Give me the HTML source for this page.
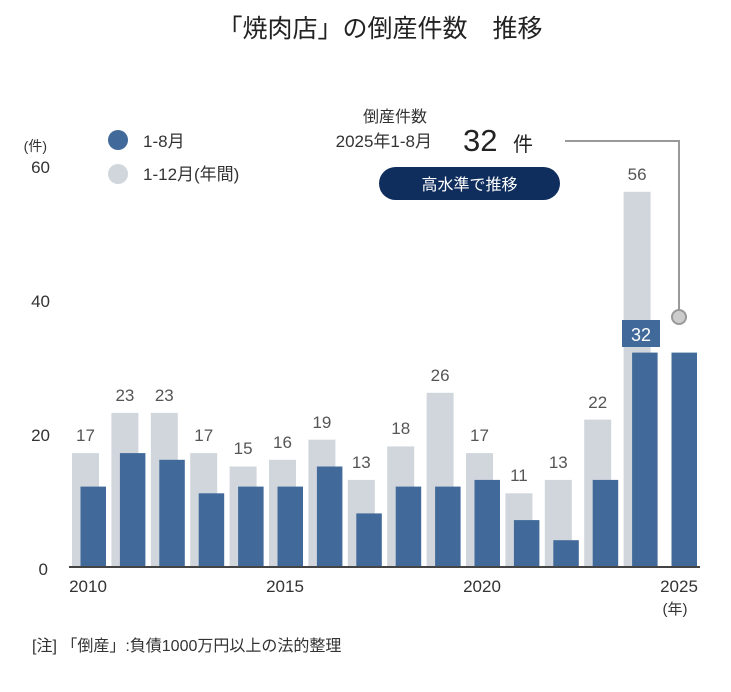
<!DOCTYPE html>
<html><head><meta charset="utf-8"><style>
body{margin:0;background:#fff;}
text{font-family:"Liberation Sans","Noto Sans CJK JP",sans-serif;}
</style></head><body>
<svg width="731" height="687" viewBox="0 0 731 687" xmlns="http://www.w3.org/2000/svg">
<rect width="731" height="687" fill="#fff"/>
<text x="380" y="37" font-size="25" text-anchor="middle" fill="#222">「焼肉店」の倒産件数　推移</text>
<g fill="#d0d6dc">
<rect x="72" y="453.1" width="27" height="113.9"/>
<rect x="111.4" y="412.9" width="27" height="154.1"/>
<rect x="150.8" y="412.9" width="27" height="154.1"/>
<rect x="190.2" y="453.1" width="27" height="113.9"/>
<rect x="229.6" y="466.5" width="27" height="100.5"/>
<rect x="269" y="459.8" width="27" height="107.2"/>
<rect x="308.4" y="439.7" width="27" height="127.3"/>
<rect x="347.8" y="479.9" width="27" height="87.1"/>
<rect x="387.2" y="446.4" width="27" height="120.6"/>
<rect x="426.6" y="392.8" width="27" height="174.2"/>
<rect x="466" y="453.1" width="27" height="113.9"/>
<rect x="505.4" y="493.3" width="27" height="73.7"/>
<rect x="544.8" y="479.9" width="27" height="87.1"/>
<rect x="584.2" y="419.6" width="27" height="147.4"/>
<rect x="623.6" y="191.8" width="27" height="375.2"/>
</g>
<g font-size="17" fill="#555" text-anchor="middle">
<text x="85.5" y="441">17</text>
<text x="124.9" y="401">23</text>
<text x="164.3" y="401">23</text>
<text x="203.7" y="441">17</text>
<text x="243.1" y="454">15</text>
<text x="282.5" y="448">16</text>
<text x="321.9" y="428">19</text>
<text x="361.3" y="468">13</text>
<text x="400.7" y="434">18</text>
<text x="440.1" y="381">26</text>
<text x="479.5" y="441">17</text>
<text x="518.9" y="481">11</text>
<text x="558.3" y="468">13</text>
<text x="597.7" y="408">22</text>
<text x="637.1" y="180">56</text>
</g>
<g fill="#41699a">
<rect x="80.5" y="486.6" width="25.5" height="80.4"/>
<rect x="119.9" y="453.1" width="25.5" height="113.9"/>
<rect x="159.3" y="459.8" width="25.5" height="107.2"/>
<rect x="198.7" y="493.3" width="25.5" height="73.7"/>
<rect x="238.1" y="486.6" width="25.5" height="80.4"/>
<rect x="277.5" y="486.6" width="25.5" height="80.4"/>
<rect x="316.9" y="466.5" width="25.5" height="100.5"/>
<rect x="356.3" y="513.4" width="25.5" height="53.6"/>
<rect x="395.7" y="486.6" width="25.5" height="80.4"/>
<rect x="435.1" y="486.6" width="25.5" height="80.4"/>
<rect x="474.5" y="479.9" width="25.5" height="87.1"/>
<rect x="513.9" y="520.1" width="25.5" height="46.9"/>
<rect x="553.3" y="540.2" width="25.5" height="26.8"/>
<rect x="592.7" y="479.9" width="25.5" height="87.1"/>
<rect x="632.1" y="352.6" width="25.5" height="214.4"/>
<rect x="671.5" y="352.6" width="25.5" height="214.4"/>
<rect x="622" y="320" width="38" height="27"/>
</g>
<text x="641" y="341" font-size="18" fill="#fff" text-anchor="middle">32</text>
<line x1="69" y1="567" x2="700" y2="567" stroke="#444" stroke-width="2"/>
<g font-size="17" fill="#333">
<text x="50" y="173" text-anchor="end">60</text>
<text x="50" y="307" text-anchor="end">40</text>
<text x="50" y="441" text-anchor="end">20</text>
<text x="48" y="575" text-anchor="end">0</text>
<text x="47" y="151" text-anchor="end" font-size="14">(件)</text>
<text x="88" y="592" text-anchor="middle">2010</text>
<text x="285" y="592" text-anchor="middle">2015</text>
<text x="482" y="592" text-anchor="middle">2020</text>
<text x="679" y="592" text-anchor="middle">2025</text>
<text x="675" y="614" text-anchor="middle" font-size="15">(年)</text>
</g>
<circle cx="118" cy="140" r="10" fill="#41699a"/>
<text x="143" y="147" font-size="17" fill="#333">1-8月</text>
<circle cx="118" cy="174" r="10" fill="#d0d6dc"/>
<text x="143" y="180" font-size="17" fill="#333">1-12月(年間)</text>
<text x="395" y="122" font-size="16" fill="#333" text-anchor="middle">倒産件数</text>
<text x="432" y="147" font-size="17" fill="#333" text-anchor="end">2025年1-8月</text>
<text x="463" y="151" font-size="31" fill="#222">32</text>
<text x="513" y="151" font-size="20" fill="#222">件</text>
<rect x="379" y="167" width="181" height="33" rx="16.5" fill="#0f2e5e"/>
<text x="469.5" y="190" font-size="16" fill="#fff" text-anchor="middle">高水準で推移</text>
<polyline points="565,141 679,141 679,310" fill="none" stroke="#999" stroke-width="2"/>
<circle cx="679" cy="317" r="7" fill="#ccc" stroke="#999" stroke-width="2"/>
<text x="32" y="651" font-size="16" fill="#333">[注] 「倒産」:負債1000万円以上の法的整理</text>
</svg>
</body></html>
